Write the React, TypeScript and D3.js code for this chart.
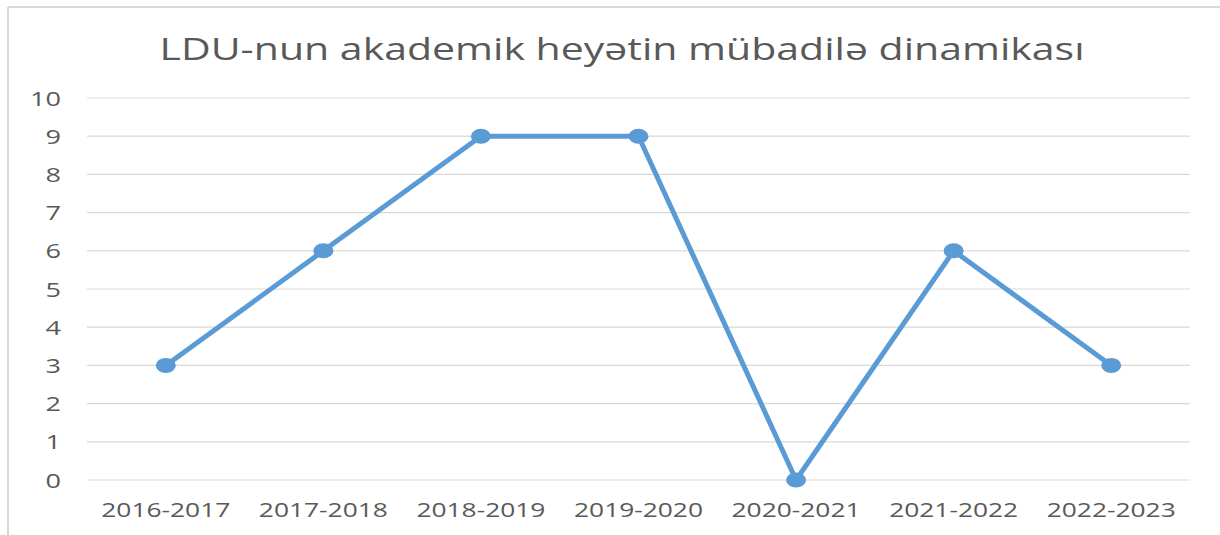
import React, { useEffect, useRef } from "react";
import * as d3 from "d3";

const years = ["2016-2017", "2017-2018", "2018-2019", "2019-2020", "2020-2021", "2021-2022", "2022-2023"];
const values = [3, 6, 9, 9, 0, 6, 3];
const yTicks = [0, 1, 2, 3, 4, 5, 6, 7, 8, 9, 10];
const title = "LDU-nun akademik heyətin mübadilə dinamikası";

const W = 1220;
const H = 535;

const App = () => {
  const ref = useRef<SVGSVGElement>(null);

  useEffect(() => {
    const svg = d3.select(ref.current);
    svg.selectAll("*").remove();

    const font = "'Open Sans', 'DejaVu Sans', sans-serif";
    const grey = "#595959";

    const x = d3.scaleBand().domain(years).range([87, 1190]);
    const y = d3.scaleLinear().domain([0, 10]).range([480, 98]);

    // frame (only top and left edges show)
    svg.append("line").attr("x1", 8).attr("x2", W).attr("y1", 7).attr("y2", 7)
      .attr("stroke", "#d9d9d9").attr("stroke-width", 2);
    svg.append("line").attr("x1", 8).attr("x2", 8).attr("y1", 7).attr("y2", H)
      .attr("stroke", "#d9d9d9").attr("stroke-width", 2);

    svg.append("text")
      .attr("x", 622).attr("y", 60)
      .attr("text-anchor", "middle")
      .attr("font-family", font).attr("font-size", 31)
      .attr("fill", grey)
      .attr("textLength", 925).attr("lengthAdjust", "spacingAndGlyphs")
      .text(title);

    // gridlines
    svg.append("g").selectAll("line").data(yTicks).join("line")
      .attr("x1", 87).attr("x2", 1190)
      .attr("y1", (d) => y(d)).attr("y2", (d) => y(d))
      .attr("stroke", "#d9d9d9").attr("stroke-width", 1.2);

    svg.append("g").selectAll("text").data(yTicks).join("text")
      .attr("x", 61).attr("y", (d) => y(d) + 7.5)
      .attr("text-anchor", "end")
      .attr("font-family", font).attr("font-size", 20)
      .attr("fill", grey)
      .attr("textLength", (d) => String(d).length * 15.5)
      .attr("lengthAdjust", "spacingAndGlyphs")
      .text((d) => d);

    svg.append("g").selectAll("text").data(years).join("text")
      .attr("x", (d) => x(d)! + x.bandwidth() / 2).attr("y", 517)
      .attr("text-anchor", "middle")
      .attr("font-family", font).attr("font-size", 20)
      .attr("fill", grey)
      .attr("textLength", 129).attr("lengthAdjust", "spacingAndGlyphs")
      .text((d) => d);

    const pts = years.map((d, i) => [x(d)! + x.bandwidth() / 2, y(values[i])] as [number, number]);

    svg.append("path")
      .attr("d", d3.line()(pts))
      .attr("fill", "none")
      .attr("stroke", "#5b9bd5")
      .attr("stroke-width", 5)
      .attr("stroke-linejoin", "round");

    svg.append("g").selectAll("ellipse").data(pts).join("ellipse")
      .attr("cx", (d) => d[0]).attr("cy", (d) => d[1])
      .attr("rx", 10).attr("ry", 7.5)
      .attr("fill", "#5b9bd5");
  }, []);

  return (
    <svg
      ref={ref}
      width={W}
      height={H}
      style={{ position: "absolute", left: 0, top: 0, background: "#fff" }}
    />
  );
};

export default App;
